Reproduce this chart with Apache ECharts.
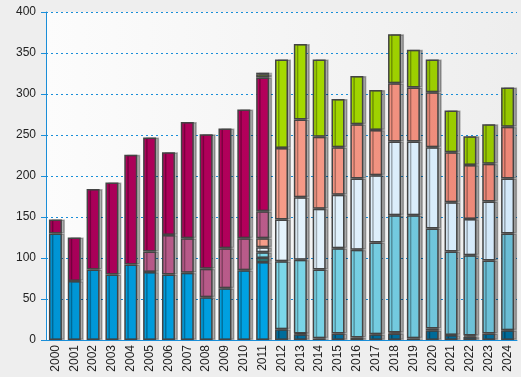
<!DOCTYPE html>
<html>
<head>
<meta charset="utf-8">
<script src="https://cdn.jsdelivr.net/npm/echarts@6/dist/echarts.min.js"></script>
<style>
  html, body { margin: 0; padding: 0; background: #eeeeee; }
  #main { width: 521px; height: 377px; }
</style>
</head>
<body>
<div id="main"></div>
<script>
var years = ['2000','2001','2002','2003','2004','2005','2006','2007','2008','2009','2010','2011','2012',
             '2013','2014','2015','2016','2017','2018','2019','2020','2021','2022','2023','2024'];
var yTicks = [0, 50, 100, 150, 200, 250, 300, 350, 400];
var _ = null;

// stacked from bottom to top
var skyBlue   = [130, 72, 86, 80, 92, 83, 80, 82, 52, 63, 85, 95, _, _, _, _, _, _, _, _, _, _, _, _, _];
var darkBlue  = [_, _, _, _, _, _, _, _, _, _, _, _, 13, 7, 2, 8, 3, 7, 8, 2, 12, 6, 4, 8, 12];
var teal      = [_, _, _, _, _, _, _, _, _, _, _, 5, _, 1, _, _, _, _, 1, _, 2, _, 1.5, _, _];
var lightCyan = [_, _, _, _, _, _, _, _, _, _, _, 7, 83, 90, 84, 104, 107, 112, 143, 150, 122, 102, 98, 89, 118];
var paleCyan  = [_, _, _, _, _, _, _, _, _, _, _, 6, 51, 76, 74, 65, 87, 82, 90, 90, 99, 60, 44, 72, 67];
var salmon    = [_, _, _, _, _, _, _, _, _, _, _, 11, 87, 95, 88, 58, 66, 55, 71, 66, 67, 61, 66, 46, 63];
var mauve     = [_, _, _, _, _, 25, 48, 42, 35, 49, 39, 33, _, _, _, _, _, _, _, _, _, _, _, _, _];
var magenta   = [17, 53, 98, 112, 134, 139, 101, 142, 164, 146, 157, 163, _, _, _, _, _, _, _, _, _, _, _, _, _];
var lime      = [_, _, _, _, _, _, _, _, _, _, _, 4, 108, 92, 94, 59, 59, 49, 60, 46, 40, 51, 35, 48, 48];
var topBlue   = [_, _, _, _, _, _, _, _, _, _, _, 2, _, _, _, _, _, _, _, _, _, _, _, _, _];

function grad(c0, c1) {
    return new echarts.graphic.LinearGradient(47, 0, 517, 0, [
        {offset: 0, color: c0}, {offset: 1, color: c1}
    ], true);
}

function layer(name, data, c0, c1) {
    return {
        name: name,
        type: 'bar',
        stack: 'all',
        data: data,
        barWidth: 13,
        itemStyle: {
            color: grad(c0, c1),
            borderColor: '#444444',
            borderWidth: 1.5,
            shadowColor: 'rgba(0,0,0,0.3)',
            shadowOffsetX: 3,
            shadowOffsetY: 0,
            shadowBlur: 0
        }
    };
}

var chart = echarts.init(document.getElementById('main'));
chart.setOption({
    backgroundColor: '#eeeeee',
    animation: false,
    textStyle: { fontFamily: 'Liberation Sans, Arial, sans-serif' },
    grid: {
        left: 46, right: 4, top: 12, bottom: 37,
        show: true,
        borderWidth: 0,
        backgroundColor: new echarts.graphic.LinearGradient(0, 0, 1, 0, [
            {offset: 0, color: '#fcfcfc'}, {offset: 1, color: '#eeeeee'}
        ])
    },
    xAxis: {
        type: 'category',
        data: years,
        axisLine: { lineStyle: { color: '#1a8ed8', width: 1 } },
        axisTick: { length: 4, lineStyle: { color: '#1a8ed8' } },
        axisLabel: { rotate: 90, fontSize: 12, color: '#222', margin: 5 }
    },
    yAxis: {
        type: 'value',
        min: 0, max: 400, interval: 50,
        axisLine: { show: true, lineStyle: { color: '#1a8ed8', width: 1 } },
        axisTick: { show: true, length: 5, lineStyle: { color: '#1a8ed8' } },
        axisLabel: { fontSize: 12, color: '#222', margin: 10,
            formatter: function (v) { return yTicks.indexOf(v) >= 0 ? String(v) : ''; } },
        splitLine: { show: true, lineStyle: { color: '#1a8ed8', type: [2, 3], width: 1 } }
    },
    series: [
        layer('skyBlue', skyBlue, '#0094d4', '#00b4f5'),
        layer('darkBlue', darkBlue, '#006e9e', '#006a98'),
        layer('teal', teal, '#1ab8b8', '#1ab8b8'),
        layer('lightCyan', lightCyan, '#8cf2ff', '#6abcd4'),
        layer('paleCyan', paleCyan, '#f8ffff', '#d2e8fa'),
        layer('salmon', salmon, '#ffb09a', '#ec8676'),
        layer('mauve', mauve, '#b25686', '#c2628f'),
        layer('magenta', magenta, '#a60058', '#c4005e'),
        layer('lime', lime, '#b4ee00', '#96c600'),
        layer('topBlue', topBlue, '#1aa0e0', '#1aa0e0')
    ]
});
</script>
</body>
</html>
